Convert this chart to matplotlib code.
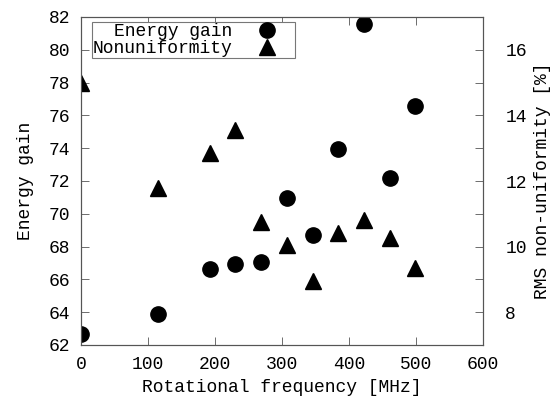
import matplotlib
matplotlib.use("Agg")
import matplotlib.pyplot as plt
from matplotlib.ticker import MultipleLocator

plt.rcParams['font.family'] = ['Liberation Mono', 'DejaVu Sans Mono']
plt.rcParams['font.size'] = 13

freq = [0, 115, 192, 230, 269, 307, 346, 384, 422, 461, 499]
energy_gain = [62.7, 63.9, 66.65, 66.95, 67.05, 70.95, 68.7, 73.95, 81.55, 72.2, 76.6]
nonuniformity = [15.0, 11.8, 12.85, 13.55, 10.75, 10.05, 8.95, 10.4, 10.8, 10.25, 9.35]

fig = plt.figure(figsize=(5.53, 3.99), dpi=100)
ax = fig.add_axes([81/553, 1-345/399, 402/553, 328/399])
ax2 = ax.twinx()

h1, = ax.plot(freq, energy_gain, 'o', color='black', markersize=11, label='Energy gain')
h2, = ax2.plot(freq, nonuniformity, '^', color='black', markersize=11, label='Nonuniformity')

ax.set_xlim(0, 600)
ax.set_ylim(62, 82)
ax2.set_ylim(7, 17)
ax.xaxis.set_major_locator(MultipleLocator(100))
ax.yaxis.set_major_locator(MultipleLocator(2))
ax2.yaxis.set_major_locator(MultipleLocator(2))
ax2.yaxis.set_minor_locator(MultipleLocator(1))

ax.tick_params(axis='x', direction='in', top=True, length=6, width=0.6, color='#555555', pad=8)
ax.tick_params(axis='y', direction='in', length=6, width=0.6, color='#555555', pad=8)
ax2.tick_params(axis='y', which='both', direction='in', length=6, width=0.6, color='#555555', pad=16)

for a in (ax, ax2):
    for s in a.spines.values():
        s.set_color('#555555')
        s.set_linewidth(0.8)

ax.set_xlabel('Rotational frequency [MHz]', labelpad=4)
ax.set_ylabel('Energy gain', labelpad=10)
ax2.set_ylabel('RMS non-uniformity [%]', labelpad=5)

leg = ax.legend(handles=[h1, h2], loc='upper left', bbox_to_anchor=(11/402, 1-5/328),
                markerfirst=False, fancybox=False, framealpha=1, edgecolor='#777777',
                borderpad=0.05, labelspacing=0.0, handletextpad=0.4, borderaxespad=0,
                handlelength=3.0)
leg.get_frame().set_linewidth(0.8)
for t in leg.get_texts():
    t.set_ha('right')

fig.savefig('out.png', dpi=100)
